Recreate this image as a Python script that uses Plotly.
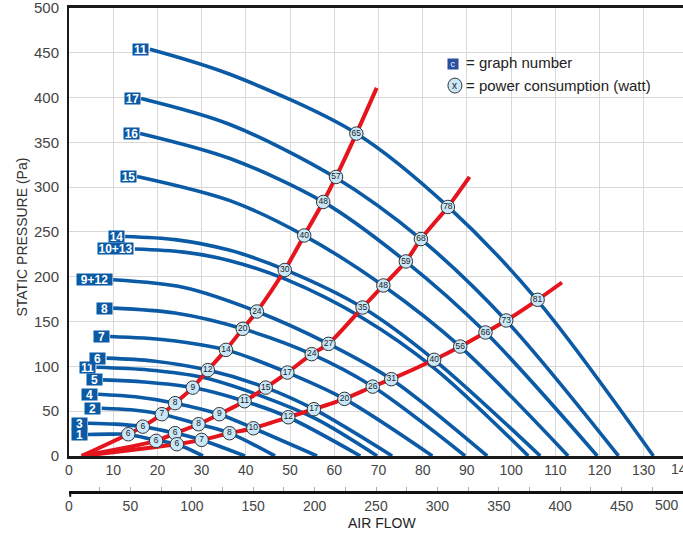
import plotly.graph_objects as go

FONT = "Liberation Sans, Arial, Helvetica, sans-serif"
BLUE = "#0b5aa5"
RED = "#e5141d"

# ---------------- data (air flow in l/s, static pressure in Pa) ----------------
curve_labels = ["1", "3", "2", "4", "5", "11", "6", "7", "8", "9+12", "10+13", "14", "15", "16", "17", "11"]

curve_flow = [
    [4.3, 9.0, 13.4, 19.7, 24.4, 30.3],
    [4.3, 10.5, 16.7, 24.0, 30.0, 39.8],
    [7.4, 14.0, 21.0, 29.3, 36.3, 46.6],
    [6.6, 15.0, 24.0, 34.0, 41.7, 56.1],
    [7.7, 17.0, 28.0, 39.7, 49.6, 65.9],
    [6.2, 18.0, 30.0, 44.0, 56.0, 69.7],
    [8.5, 19.0, 31.4, 44.5, 55.4, 73.1],
    [9.3, 22.0, 35.5, 49.4, 62.3, 82.2],
    [10.0, 24.0, 39.3, 54.9, 68.7, 89.6],
    [10.0, 26.0, 42.5, 58.7, 72.9, 94.6],
    [14.9, 26.0, 36.4, 49.1, 66.4, 82.6, 103.9],
    [12.7, 24.0, 36.4, 49.1, 66.4, 82.6, 106.6],
    [15.4, 36.4, 53.2, 71.1, 88.5, 112.9],
    [16.1, 36.4, 57.7, 76.2, 94.2, 119.5],
    [16.3, 36.4, 60.2, 79.6, 98.9, 124.3],
    [18.3, 36.4, 65.0, 85.8, 105.9, 132.2],
]

curve_pressure = [
    [24.0, 24.3, 24.0, 17.5, 13.0, 0],
    [36.5, 35.5, 32.7, 25.4, 17.9, 0],
    [53.3, 51.5, 46.6, 35.4, 25.4, 0],
    [68.9, 66.0, 58.9, 46.6, 30.9, 0],
    [84.9, 82.5, 76.3, 61.1, 43.2, 0],
    [99.0, 96.0, 88.0, 66.0, 41.0, 0],
    [109.2, 106.0, 95.8, 76.3, 52.2, 0],
    [133.3, 129.5, 118.4, 93.1, 63.7, 0],
    [165.0, 159.5, 141.9, 113.6, 77.4, 0],
    [196.6, 188.0, 161.2, 125.1, 85.7, 0],
    [231.0, 227.5, 218.0, 197.0, 154.0, 98.0, 0],
    [245.0, 241.5, 229.5, 207.5, 165.7, 107.3, 0],
    [312.0, 285.0, 246.0, 190.0, 122.0, 0],
    [360.0, 332.0, 283.0, 217.0, 138.0, 0],
    [399.0, 370.0, 311.0, 242.0, 151.0, 0],
    [454.0, 426.0, 360.0, 278.0, 174.0, 0],
]

# system (red) lines with power consumption (watt) read at the intersections
red1_flow = [2.9, 13.4, 16.7, 21.0, 24.0, 28.0, 31.4, 35.5, 39.3, 42.5, 48.8, 53.2, 57.5, 60.4, 65.0, 69.6]
red1_pressure = [0, 24.2, 32.7, 46.6, 58.9, 76.3, 95.8, 118.4, 141.9, 161.2, 207.5, 246.1, 283.5, 311.4, 359.8, 410.8]
red1_watt = ["", "6", "6", "7", "8", "9", "12", "14", "20", "24", "30", "40", "48", "57", "65", ""]

red2_flow = [2.9, 19.7, 24.0, 29.3, 34.0, 39.7, 44.5, 49.4, 54.9, 58.7, 66.4, 71.1, 76.2, 79.6, 85.7, 90.6]
red2_pressure = [0, 16.8, 25.4, 35.4, 46.6, 61.1, 76.3, 93.1, 113.6, 125.1, 165.7, 190.3, 217.1, 242.1, 277.9, 311.4]
red2_watt = ["", "6", "6", "8", "9", "11", "15", "17", "24", "27", "35", "48", "59", "68", "78", ""]

red3_flow = [2.9, 24.4, 30.0, 36.3, 41.7, 49.6, 55.4, 62.3, 68.7, 72.9, 82.6, 88.5, 94.2, 98.9, 106.0, 111.5]
red3_pressure = [0, 13.1, 17.9, 25.4, 30.9, 43.2, 52.2, 63.7, 77.4, 85.7, 107.3, 122.1, 137.8, 151.2, 174.3, 193.6]
red3_watt = ["", "6", "7", "8", "10", "12", "17", "20", "26", "31", "40", "56", "66", "73", "81", ""]

x_ticks_ls = list(range(0, 131, 10))
x_ticks_m3h = list(range(0, 451, 50))
x_minor_m3h = list(range(25, 500, 25))
LS_MAX = 500 / 3.6

fig = go.Figure()

# fan curves
for lab, xs, ps in zip(curve_labels, curve_flow, curve_pressure):
    fig.add_trace(go.Scatter(x=xs, y=ps, mode="lines",
                             line=dict(color=BLUE, width=3.6, shape="spline", smoothing=0.9),
                             hoverinfo="skip", showlegend=False))

reds = [(red1_flow, red1_pressure, red1_watt),
        (red2_flow, red2_pressure, red2_watt),
        (red3_flow, red3_pressure, red3_watt)]
for xs, ps, ws in reds:
    fig.add_trace(go.Scatter(x=xs, y=ps, mode="lines",
                             line=dict(color=RED, width=4, shape="spline", smoothing=0.7),
                             hoverinfo="skip", showlegend=False))
for xs, ps, ws in reds:
    mx = [x for x, w in zip(xs, ws) if w]
    my = [p for p, w in zip(ps, ws) if w]
    mt = [w for w in ws if w]
    fig.add_trace(go.Scatter(x=mx, y=my, mode="markers+text", text=mt,
                             textposition="middle center",
                             textfont=dict(size=8.5, color="#222", family=FONT),
                             marker=dict(symbol="circle", size=13.5, color="#c8e7f8",
                                         line=dict(color="#333", width=1)),
                             cliponaxis=False, hoverinfo="skip", showlegend=False))

# invisible trace for the secondary (m3/h) axis
fig.add_trace(go.Scatter(x=[0], y=[0], xaxis="x2", yaxis="y", mode="markers",
                         marker=dict(opacity=0), hoverinfo="skip", showlegend=False))

# graph number boxes
for lab, xs, ps in zip(curve_labels, curve_flow, curve_pressure):
    fig.add_annotation(x=xs[0], y=ps[0], xref="x", yref="y", text="<b>%s</b>" % lab,
                       showarrow=False, xanchor="right", yanchor="middle", xshift=-0.5,
                       bgcolor=BLUE, borderpad=1,
                       width=13 if len(lab) <= 2 else 33, height=9,
                       font=dict(color="white", size=12, family=FONT))

# legend
fig.add_annotation(x=86.9, y=438, xref="x", yref="y", text="c", showarrow=False,
                   xanchor="center", yanchor="middle",
                   bgcolor="#2c4e9e", width=8, height=8, borderpad=1,
                   font=dict(color="white", size=9, family=FONT))
fig.add_annotation(x=89.3, y=439, xref="x", yref="y", text="= graph number", showarrow=False,
                   xanchor="left", yanchor="middle", font=dict(color="#222", size=15, family=FONT))
fig.add_shape(type="circle", xref="x", yref="y", xsizemode="pixel", ysizemode="pixel",
              xanchor=87.3, yanchor=413.4, x0=-7, x1=7, y0=-7.5, y1=7.5,
              fillcolor="#c8e7f8", line=dict(color="#333", width=1))
fig.add_annotation(x=87.3, y=413.4, xref="x", yref="y", text="x", showarrow=False,
                   xanchor="center", yanchor="middle",
                   font=dict(color="#222", size=10, family=FONT))
fig.add_annotation(x=89.3, y=413.4, xref="x", yref="y", text="= power consumption (watt)",
                   showarrow=False, xanchor="left", yanchor="middle",
                   font=dict(color="#222", size=15, family=FONT))

# axis titles and edge labels
fig.add_annotation(x=-0.0757, y=0.5695, xref="paper", yref="paper", text="STATIC PRESSURE (Pa)",
                   textangle=-90, showarrow=False, xanchor="center", yanchor="middle",
                   font=dict(color="#333", size=14, family=FONT))
fig.add_annotation(x=0.509, y=0.032, xref="paper", yref="paper", text="AIR FLOW",
                   showarrow=False, xanchor="center", yanchor="middle",
                   font=dict(color="#222", size=14, family=FONT))
fig.add_annotation(x=140 / LS_MAX, y=0.158, xref="paper", yref="paper", text="140",
                   showarrow=False, xanchor="center", yanchor="top", yshift=-3, xshift=-5,
                   font=dict(color="#444", size=14, family=FONT))
fig.add_annotation(x=1.0, y=0.0902, xref="paper", yref="paper", text="500",
                   showarrow=False, xanchor="right", yanchor="top", yshift=-3, xshift=-2,
                   font=dict(color="#444", size=14, family=FONT))
fig.add_shape(type="line", xref="paper", yref="paper", x0=0.002, x1=0.002,
              y0=0.0902, y1=0.0812, line=dict(color="#111", width=2))

fig.update_layout(
    width=683, height=540,
    margin=dict(l=69, r=0, t=8, b=0, autoexpand=False),
    plot_bgcolor="white", paper_bgcolor="white",
    showlegend=False,
    font=dict(family=FONT, color="#333"),
    xaxis=dict(range=[0, LS_MAX], tickvals=x_ticks_ls, showgrid=True, gridcolor="#d8d8d8",
               gridwidth=1.3, showline=True, linecolor="#1a1a1a", linewidth=2.5, mirror=True,
               ticks="", zeroline=False, anchor="y", automargin=False,
               tickfont=dict(size=14, color="#444", family=FONT)),
    yaxis=dict(range=[0, 500], dtick=50, domain=[0.158, 1], showgrid=True, gridcolor="#d8d8d8",
               gridwidth=1.3, showline=True, linecolor="#1a1a1a", linewidth=2, ticks="",
               zeroline=False, ticklabelstandoff=5, automargin=False,
               ticklabeloverflow="allow",
               tickfont=dict(size=15, color="#444", family=FONT)),
    xaxis2=dict(overlaying="x", anchor="free", position=0.0902, side="bottom", range=[0, 500],
                tickmode="array", tickvals=x_ticks_m3h, ticks="inside", ticklen=4,
                tickcolor="#aaa", tickwidth=1, automargin=False,
                minor=dict(tickmode="array", tickvals=x_minor_m3h, ticks="inside", ticklen=4,
                           tickcolor="#aaa", tickwidth=1),
                showline=True, linecolor="#111", linewidth=2.5, showgrid=False, zeroline=False,
                tickfont=dict(size=14, color="#444", family=FONT)),
)

fig.write_html("out.html", config={"displayModeBar": False},
               post_script="document.body.style.margin='0px';document.body.style.overflow='hidden';")
